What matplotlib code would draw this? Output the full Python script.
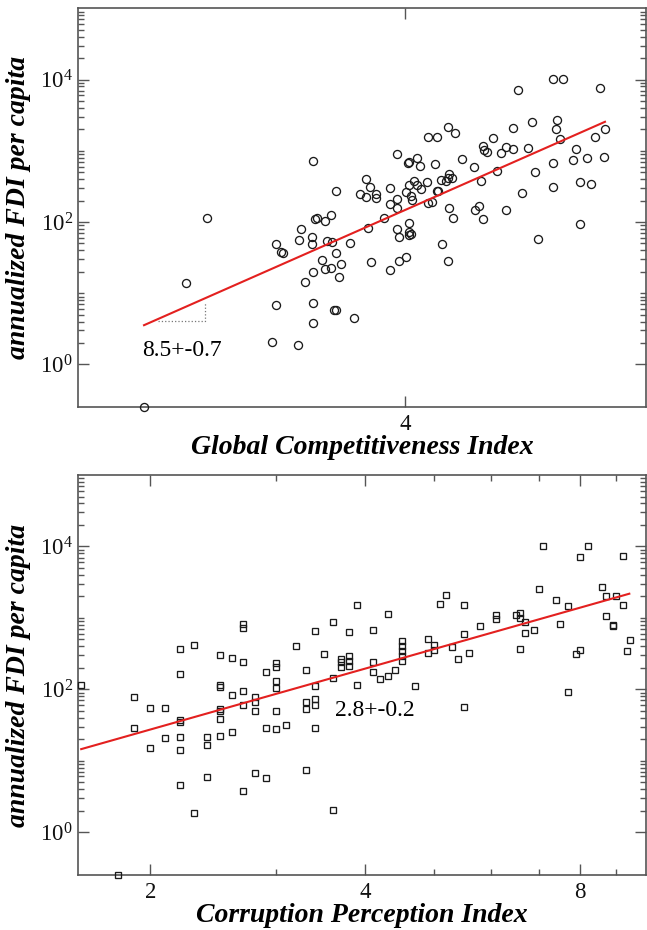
import matplotlib
matplotlib.use("Agg")
import matplotlib.pyplot as plt
from matplotlib.ticker import FixedLocator, FixedFormatter, NullLocator, NullFormatter

plt.rcParams['font.family'] = 'Liberation Serif'
plt.rcParams['mathtext.fontset'] = 'custom'
plt.rcParams['mathtext.rm'] = 'Liberation Serif'
plt.rcParams['mathtext.it'] = 'Liberation Serif:italic'

# ---- top panel: Global Competitiveness Index vs FDI per capita ----
gci = [2.58, 2.77, 2.87, 3.20, 3.34,
       4.30, 4.35, 4.16, 4.22, 4.64, 4.56, 4.57, 4.59, 4.74, 4.70,
       3.95, 4.08, 3.43, 4.02, 4.03, 4.10, 4.21, 4.40, 4.49, 4.67,
       4.31, 4.30, 4.33, 4.29, 4.25, 4.55, 3.75, 3.77, 3.81, 3.81,
       3.71, 3.75, 3.56, 3.90, 4.06, 4.03, 4.08, 4.11, 4.15, 4.01,
       4.04, 4.05, 3.95, 3.90, 3.95, 4.22, 4.23, 4.16, 4.19, 4.31,
       4.34, 4.50, 4.53, 4.56, 4.74, 3.86, 3.76, 3.44, 3.45, 3.50,
       3.53, 3.36, 3.42, 3.42, 3.35, 3.51, 3.54, 3.65, 3.22, 3.25,
       3.26, 3.56, 3.95, 3.96, 4.03, 4.03, 4.04, 4.03, 4.26, 4.30,
       4.01, 3.96, 3.90, 3.78, 3.48, 3.59, 3.50, 3.53, 3.43, 3.38,
       3.58, 3.22, 3.43, 3.43, 3.55, 3.56, 3.67,
       4.80, 4.80, 4.84, 4.87, 4.92, 4.95, 4.98, 5.00, 5.13, 5.13,
       5.13, 5.16, 5.17, 5.22, 5.19, 5.33, 5.31, 5.37, 5.37, 5.43,
       5.47, 5.51, 5.55, 5.59, 5.60]
fdi_gci = [0.25, 14.0, 115, 2.04, 1.85,
           2130, 1794, 1542, 1577, 1510, 1178, 1024, 970, 1140, 919,
           890, 798, 725, 665, 687, 617, 658, 757, 597, 513,
           466, 409, 409, 376, 388, 372, 396, 313, 247, 214,
           244, 222, 272, 303, 376, 330, 330, 293, 368, 266,
           231, 203, 208, 177, 158, 272, 272, 186, 191, 157,
           114, 147, 169, 111, 146, 114, 82, 112, 115, 104,
           124, 78.6, 62.0, 48.9, 55.7, 54.5, 52.7, 51.1, 48.9, 38.2,
           36.2, 36.2, 78.6, 62.0, 95.5, 72.2, 67.6, 64.8, 48.4, 28.6,
           32.2, 28.6, 20.9, 27.7, 29.2, 25.7, 21.6, 22.3, 20.0, 14.5,
           16.7, 6.8, 7.4, 3.76, 5.9, 5.8, 4.5,
           1067, 2104, 7120, 257, 1081, 2530, 497, 57.5, 679, 312,
           10260, 2000, 2700, 10260, 1475, 1057, 740, 367, 92.5, 789,
           337, 1542, 7520, 824, 2000]
gci_fit_x = [2.58, 5.60]
gci_fit_y = [3.56, 2555]
gci_tri_x = [2.64, 2.86, 2.86]
gci_tri_y = [4.1, 4.1, 7.6]
gci_label = "8.5+-0.7"

# ---- bottom panel: Corruption Perception Index vs FDI per capita ----
cpi = [1.6, 1.8, 1.9, 1.9, 2.0, 2.0, 2.1, 2.1,
       2.2, 2.2, 2.2, 2.2, 2.2, 2.2, 2.2, 2.3, 2.3,
       2.4, 2.4, 2.4, 2.5, 2.5, 2.5, 2.5, 2.5, 2.5, 2.5,
       2.6, 2.6, 2.6, 2.7, 2.7, 2.7, 2.7, 2.7, 2.7,
       2.8, 2.8, 2.8, 2.8, 2.9, 2.9, 2.9,
       3.0, 3.0, 3.0, 3.0, 3.0, 3.0, 3.1, 3.2,
       3.3, 3.3, 3.3, 3.3, 3.4, 3.4, 3.4, 3.4, 3.4, 3.5,
       3.6, 3.6, 3.6, 3.7, 3.7, 3.7, 3.8, 3.8, 3.8, 3.8,
       3.9, 3.9, 4.1, 4.1, 4.1, 4.2, 4.3, 4.3, 4.4,
       4.5, 4.5, 4.5, 4.5, 4.5, 4.7, 4.9, 4.9, 5.0, 5.0,
       5.1, 5.2, 5.3, 5.4, 5.5, 5.5, 5.5, 5.6, 5.8, 6.1, 6.1,
       6.5, 6.6, 6.6, 6.6, 6.7, 6.7, 6.9, 7.0, 7.1, 7.4, 7.5,
       7.7, 7.7, 7.9, 8.0, 8.0, 8.2, 8.6, 8.7, 8.7, 8.9, 8.9,
       9.0, 9.2, 9.2, 9.3, 9.4]
fdi_cpi = [113, 0.25, 79, 29.0, 55, 14.8, 55, 20.6,
           369, 161, 37.2, 35.3, 21.7, 14.1, 4.56, 415, 1.87,
           21.3, 16.3, 5.97, 304, 113, 109, 53, 49, 38.5, 22.2,
           270, 82, 25.5, 818, 719, 240, 96, 60, 3.80,
           78, 67, 49, 6.8, 173, 28.5, 5.78,
           232, 208, 131, 104, 50, 28.1, 31.7, 397,
           189, 66, 53, 7.5, 652, 112, 74, 60, 28.8, 310,
           881, 143, 2.04, 264, 237, 208, 294, 245, 213, 625,
           1528, 113, 667, 242, 173, 141, 1142, 154, 185,
           467, 397, 338, 294, 250, 112, 504, 321, 415, 349,
           1577, 2110, 385, 264, 1510, 592, 57, 327, 759, 1082, 961,
           1094, 1167, 1002, 365, 863, 605, 682, 2530, 10260, 1775, 818,
           1479, 92, 314, 7110, 357, 10260, 2700, 2042, 1070, 784, 759,
           2042, 7430, 1528, 338, 493]
cpi_fit_x = [1.60, 9.38]
cpi_fit_y = [14.5, 2178]
cpi_label = "2.8+-0.2"

spine_col = '#555555'
line_red = '#e3201f'

y_major = [1, 1e2, 1e4]
y_major_labels = ['$10^{0}$', '$10^{2}$', '$10^{4}$']
y_minor = [k * 10.0 ** n for n in range(0, 5) for k in range(2, 10)] + [10, 1000]


def style_axes(ax, xlabel, xlim, xmajor, xminor):
    ax.set_xscale('log')
    ax.set_yscale('log')
    ax.set_xlim(*xlim)
    ax.set_ylim(0.25, 1e5)
    ax.xaxis.set_major_locator(FixedLocator(xmajor))
    ax.xaxis.set_major_formatter(FixedFormatter([str(v) for v in xmajor]))
    ax.xaxis.set_minor_locator(FixedLocator(xminor) if xminor else NullLocator())
    ax.xaxis.set_minor_formatter(NullFormatter())
    ax.yaxis.set_major_locator(FixedLocator(y_major))
    ax.yaxis.set_major_formatter(FixedFormatter(y_major_labels))
    ax.yaxis.set_minor_locator(FixedLocator(y_minor))
    ax.yaxis.set_minor_formatter(NullFormatter())
    for s in ax.spines.values():
        s.set_color(spine_col)
        s.set_linewidth(1.2)
    ax.tick_params(which='both', direction='in', top=True, right=True,
                   color=spine_col, width=1.0, labelsize=16.5, labelcolor='#111111')
    ax.tick_params(which='major', length=8, pad=5)
    ax.tick_params(which='minor', length=4.2)
    ax.tick_params(axis='y', which='major', pad=4)
    ax.set_xlabel(xlabel, fontsize=20, fontweight='bold', fontstyle='italic')
    ax.set_ylabel('annualized FDI per capita', fontsize=20,
                  fontweight='bold', fontstyle='italic')
    ax.xaxis.set_label_coords(0.5, -0.07)
    ax.yaxis.set_label_coords(-0.083, 0.5)


fig = plt.figure(figsize=(6.47, 9.30), dpi=100)
ax1 = fig.add_axes([0.121, 0.562, 0.8775, 0.429])
ax2 = fig.add_axes([0.121, 0.0591, 0.8775, 0.4301])

# top
ax1.plot(gci, fdi_gci, ls='none', marker='o', ms=5.8, mfc='none',
         mec='#1a1a1a', mew=0.95, clip_on=False, zorder=3)
ax1.plot(gci_fit_x, gci_fit_y, color=line_red, lw=1.5, zorder=4)
ax1.plot(gci_tri_x, gci_tri_y, color='#777777', ls=':', lw=0.9, zorder=2)
ax1.text(2.57, 1.59, gci_label, fontsize=17, ha='left', va='center')
style_axes(ax1, 'Global Competitiveness Index', (2.31, 6.0), [4], [])

# bottom
ax2.plot(cpi, fdi_cpi, ls='none', marker='s', ms=4.8, mfc='none',
         mec='#1a1a1a', mew=0.95, clip_on=False, zorder=3)
ax2.plot(cpi_fit_x, cpi_fit_y, color=line_red, lw=1.5, zorder=4)
ax2.text(3.63, 50, cpi_label, fontsize=17, ha='left', va='center')
style_axes(ax2, 'Corruption Perception Index', (1.585, 9.9), [2, 4, 8], [3, 5, 6, 7, 9])

fig.savefig('out.png', dpi=100)
